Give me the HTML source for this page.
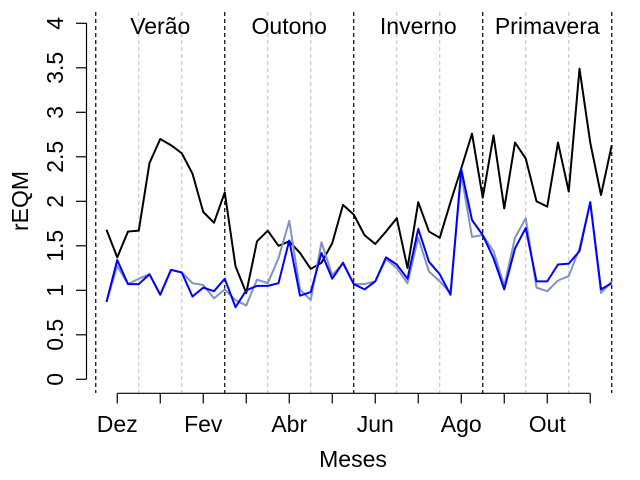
<!DOCTYPE html>
<html><head><meta charset="utf-8"><style>
body{margin:0;background:#fff}
svg{display:block;font-family:"Liberation Sans",Arial,sans-serif}
</style></head><body>
<svg id="chart" width="640" height="480" viewBox="0 0 640 480">
<g id="grid"></g>
<g id="axes"></g>
<g id="series"></g>
<text x="353" y="467" text-anchor="middle" font-size="23">Meses</text>
<text transform="translate(28,201) rotate(-90)" text-anchor="middle" font-size="23">rEQM</text>
</svg>
<script>
const monthLabels = ["Dez","Fev","Abr","Jun","Ago","Out"];
const monthIdx = [1,9,17,25,33,41];
const seasonLabels = ["Verão","Outono","Inverno","Primavera"];
const seasonBounds = [-1,11,23,35,47];
const yTicks = [0,0.5,1,1.5,2,2.5,3,3.5,4];
const yTickLabels = ["0","0.5","1","1.5","2","2.5","3","3.5","4"];
const seriesBlack = [1.68,1.37,1.66,1.67,2.43,2.70,2.63,2.54,2.31,1.88,1.76,2.10,1.27,0.97,1.55,1.67,1.50,1.55,1.42,1.24,1.31,1.53,1.96,1.85,1.62,1.52,1.66,1.81,1.25,1.99,1.66,1.59,1.99,2.37,2.76,2.04,2.74,1.92,2.66,2.48,2.00,1.94,2.66,2.11,3.49,2.66,2.07,2.63];
const seriesGray = [0.87,1.27,1.07,1.13,1.18,0.95,1.23,1.20,1.08,1.06,0.91,1.01,0.89,0.83,1.12,1.08,1.36,1.78,1.01,0.89,1.54,1.17,1.30,1.07,1.07,1.10,1.35,1.25,1.08,1.59,1.21,1.10,0.97,2.31,1.60,1.62,1.44,1.05,1.59,1.81,1.03,0.99,1.11,1.16,1.47,1.99,0.97,1.10];
const seriesBlue = [0.87,1.34,1.07,1.07,1.18,0.95,1.23,1.20,0.93,1.03,0.99,1.13,0.81,1.00,1.05,1.05,1.08,1.56,0.94,0.98,1.42,1.13,1.31,1.07,1.01,1.10,1.37,1.29,1.13,1.69,1.32,1.18,0.95,2.36,1.79,1.62,1.36,1.01,1.47,1.70,1.10,1.10,1.29,1.30,1.44,1.99,1.01,1.08];

const NS="http://www.w3.org/2000/svg";
const xs = i => 106.5 + i*10.75;
const ys = v => 379.3 - v*89;
function mk(tag, attrs, parent){const e=document.createElementNS(NS,tag);for(const k in attrs)e.setAttribute(k,attrs[k]);parent.appendChild(e);return e;}
const grid=document.getElementById('grid'), axes=document.getElementById('axes'), ser=document.getElementById('series');

for(let s=0;s<seasonBounds.length;s++){
  const l=mk('line',{x1:xs(seasonBounds[s]),x2:xs(seasonBounds[s]),y1:12,y2:393,stroke:'#000','stroke-width':1.2,'stroke-dasharray':'4,3'},grid);
  
  
  if(s<seasonBounds.length-1){
    for(const off of [4,8]){
      const g=mk('line',{x1:xs(seasonBounds[s]+off),x2:xs(seasonBounds[s]+off),y1:12,y2:393,stroke:'#c8c8c8','stroke-width':1.2,'stroke-dasharray':'4,3'},grid);
      
      
    }
    const t=mk('text',{x:(xs(seasonBounds[s])+xs(seasonBounds[s+1]))/2,y:34,'text-anchor':'middle','font-size':23},grid);
    t.textContent=seasonLabels[s];
    
    
  }
}
const ya=mk('line',{x1:86.5,x2:86.5,y1:ys(4),y2:ys(0),stroke:'#000','stroke-width':1.2},axes);


yTicks.forEach((v,i)=>{
  mk('line',{x1:76,x2:86.5,y1:ys(v),y2:ys(v),stroke:'#000','stroke-width':1.2},axes);
  const t=mk('text',{transform:`translate(63,${ys(v)}) rotate(-90)`,'text-anchor':'middle','font-size':23},axes);
  t.textContent=yTickLabels[i];
  
  
});
const xa=mk('line',{x1:xs(1),x2:xs(45),y1:393.3,y2:393.3,stroke:'#000','stroke-width':1.2},axes);


for(let i=1;i<=45;i+=4){
  mk('line',{x1:xs(i),x2:xs(i),y1:393.3,y2:403.5,stroke:'#000','stroke-width':1.2},axes);
}
monthLabels.forEach((m,k)=>{
  const t=mk('text',{x:xs(monthIdx[k]),y:432,'text-anchor':'middle','font-size':23},axes);
  t.textContent=m;
  
  
});
function line(data,color,name){
  const p=mk('polyline',{points:data.map((v,i)=>xs(i)+','+ys(v)).join(' '),fill:'none',stroke:color,'stroke-width':2,'stroke-linejoin':'round'},ser);
  
  
}
line(seriesBlack,'#000','series-black');
line(seriesGray,'#7f93c3','series-gray-blue');
line(seriesBlue,'#0000ff','series-blue');
</script>
</body></html>
